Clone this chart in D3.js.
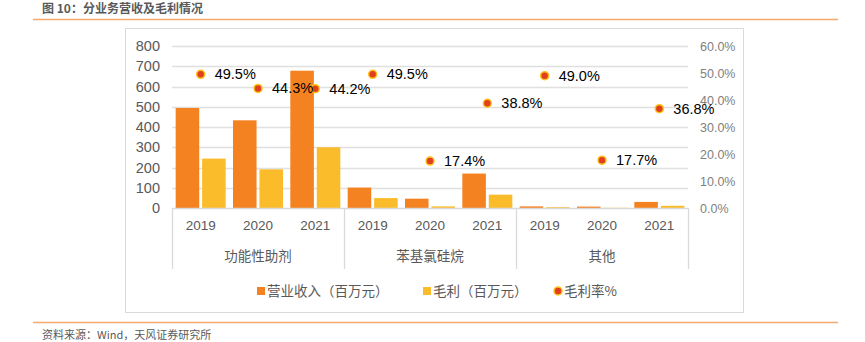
<!DOCTYPE html>
<html><head><meta charset="utf-8">
<script src="https://cdn.jsdelivr.net/npm/d3@7"></script>
<style>
body{margin:0;background:#fff;}
svg{display:block;font-family:"Liberation Sans",Arial,"Noto Sans CJK SC",sans-serif;}
.cjk{font-family:"Noto Sans CJK SC","Liberation Sans",sans-serif;}
</style></head>
<body><svg id="c" width="865" height="342"></svg>
<script>
const groups = ["功能性助剂","苯基氯硅烷","其他"];
const years = ["2019","2020","2021"];
const revenue = [494,433,678, 101,46,170, 8,7,30];
const grossProfit = [244,191,300, 49,8,66, 4,1,11];
const marginPct = [49.5,44.3,44.2, 49.5,17.4,38.8, 49.0,17.7,36.8];
const leftTicks = [0,100,200,300,400,500,600,700,800];
const rightTicks = [0,10,20,30,40,50,60];
const seriesNames = ["营业收入（百万元）","毛利（百万元）","毛利率%"];

const cOrange="#F58220", cYellow="#FBBC2C", cDot="#E0401E", cDotStroke="#FFC21A";
const svg=d3.select("#c");

// title + rules
svg.append("text").attr("class","cjk").attr("x",42).attr("y",13).attr("font-size",12).attr("font-weight","bold").attr("fill","#595959").text("图 10：分业务营收及毛利情况");
svg.append("line").attr("x1",33).attr("x2",838).attr("y1",19.5).attr("y2",19.5).attr("stroke","#F6A96B").attr("stroke-width",1.3);
svg.append("line").attr("x1",33).attr("x2",838).attr("y1",322.5).attr("y2",322.5).attr("stroke","#F6A96B").attr("stroke-width",1.3);
svg.append("text").attr("class","cjk").attr("x",42).attr("y",339).attr("font-size",11).attr("fill","#595959").text("资料来源：Wind，天风证券研究所");

// chart box
svg.append("rect").attr("x",125.5).attr("y",28.5).attr("width",618).attr("height",284).attr("fill","none").attr("stroke","#d9d9d9");

const x0=172, x1=688, yTop=46, yBot=208;
const cats=[]; groups.forEach(g=>years.forEach(y=>cats.push(g+"|"+y)));
const x=d3.scaleBand().domain(cats).range([x0,x1]);
const y=d3.scaleLinear().domain([0,800]).range([yBot,yTop]);
const y2=d3.scaleLinear().domain([0,60]).range([yBot,yTop]);
const inner=d3.scaleBand().domain([0,1]).range([x.bandwidth()/2-25,x.bandwidth()/2+25]).paddingInner(0.11);

// grid
svg.append("g").selectAll("line").data(leftTicks.slice(1)).join("line")
 .attr("x1",x0).attr("x2",x1).attr("y1",d=>Math.round(y(d))+0.5).attr("y2",d=>Math.round(y(d))+0.5)
 .attr("stroke","#e0e0e0").attr("stroke-width",1.3);

// left axis
const ga=svg.append("g").attr("transform",`translate(${160},0)`)
 .call(d3.axisLeft(y).tickValues(leftTicks).tickSize(0).tickPadding(0));
ga.select(".domain").remove();
ga.selectAll("text").attr("font-size",14.5).attr("fill","#595959").attr("font-family","'Liberation Sans',Arial,sans-serif");
// right axis
const gr=svg.append("g").attr("transform",`translate(${700},0)`)
 .call(d3.axisRight(y2).tickValues(rightTicks).tickSize(0).tickPadding(0).tickFormat(d=>d.toFixed(1)+"%"));
gr.select(".domain").remove();
gr.selectAll("text").attr("font-size",12.5).attr("fill","#808080").attr("font-family","'Liberation Sans',Arial,sans-serif");

// bars
const data=cats.map((c,i)=>({c,rev:revenue[i],gp:grossProfit[i],m:marginPct[i]}));
svg.append("g").selectAll("rect").data(data).join("rect")
 .attr("x",d=>x(d.c)+inner(0)).attr("width",inner.bandwidth())
 .attr("y",d=>y(d.rev)).attr("height",d=>yBot-y(d.rev)).attr("fill",cOrange);
svg.append("g").selectAll("rect").data(data).join("rect")
 .attr("x",d=>x(d.c)+inner(1)).attr("width",inner.bandwidth())
 .attr("y",d=>y(d.gp)).attr("height",d=>yBot-y(d.gp)).attr("fill",cYellow);

// category axis
const ax=svg.append("g");
ax.append("line").attr("x1",x0).attr("x2",x1).attr("y1",yBot+0.5).attr("y2",yBot+0.5).attr("stroke","#d9d9d9").attr("stroke-width",1.3);
const dividers=[0,3,6,9].map(i=> i<9? x(cats[i]) : x1);
ax.selectAll("line.div").data(dividers).join("line").attr("class","div")
 .attr("x1",d=>Math.round(d)+0.5).attr("x2",d=>Math.round(d)+0.5).attr("y1",yBot).attr("y2",269)
 .attr("stroke","#d9d9d9").attr("stroke-width",1.3);
ax.selectAll("text.yr").data(cats).join("text").attr("class","yr")
 .attr("x",d=>x(d)+x.bandwidth()/2).attr("y",230).attr("text-anchor","middle")
 .attr("font-size",13.5).attr("fill","#595959").text(d=>d.split("|")[1]);
ax.selectAll("text.grp").data(groups).join("text").attr("class","grp cjk")
 .attr("x",(d,i)=>(dividers[i]+dividers[i+1])/2).attr("y",261).attr("text-anchor","middle")
 .attr("font-size",13.5).attr("fill","#595959").text(d=>d);

// margin points + labels
const pts=svg.append("g");
pts.selectAll("circle").data(data).join("circle")
 .attr("cx",d=>x(d.c)+x.bandwidth()/2).attr("cy",d=>y2(d.m)).attr("r",4)
 .attr("fill",cDot).attr("stroke",cDotStroke).attr("stroke-width",1.5);
pts.selectAll("text").data(data).join("text")
 .attr("x",d=>x(d.c)+x.bandwidth()/2+14).attr("y",d=>y2(d.m)+5)
 .attr("font-size",14.5).attr("fill","#000").text(d=>d.m.toFixed(1)+"%");

// legend
const lg=svg.append("g");
const lx=[257,423,554];
lg.append("rect").attr("x",lx[0]).attr("y",287).attr("width",8).attr("height",8).attr("fill",cOrange);
lg.append("rect").attr("x",lx[1]).attr("y",287).attr("width",8).attr("height",8).attr("fill",cYellow);
lg.append("circle").attr("cx",lx[2]+4).attr("cy",291).attr("r",4).attr("fill",cDot).attr("stroke",cDotStroke).attr("stroke-width",1.5);
lg.selectAll("text").data(seriesNames).join("text").attr("class","cjk")
 .attr("x",(d,i)=>lx[i]+10).attr("y",296).attr("font-size",13.5).attr("fill","#595959").text(d=>d);
</script></body></html>
